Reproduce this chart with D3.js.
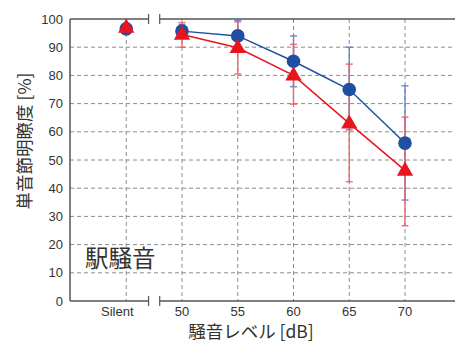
<!DOCTYPE html>
<html>
<head>
<meta charset="utf-8">
<script src="https://cdn.jsdelivr.net/npm/d3@7"></script>
<style>
  html, body { margin: 0; padding: 0; background: #fff; }
  svg { display: block; }
</style>
</head>
<body>
<svg id="chart" width="455" height="343"></svg>
<script>
// Noise levels (dB); "Silent" sits left of the axis break
const levels = [50, 55, 60, 65, 70];
const levelLabels = ["50", "55", "60", "65", "70"];
const silentLabel = "Silent";
const yTicks = [0, 10, 20, 30, 40, 50, 60, 70, 80, 90, 100];

// Series A (blue circles)
const blueSilent = 96.5;
const blueMean = [95.7, 94, 85, 75, 56];
const blueLow  = [93.5, 89, 76, 60.7, 35.8];
const blueHigh = [98, 99.5, 94, 90, 76.3];

// Series B (red triangles)
const redSilent = 97;
const redMean = [94.5, 89.8, 80, 63, 46.3];
const redLow  = [90, 80.5, 69.8, 42.3, 26.7];
const redHigh = [98.7, 99, 91, 84, 65.2];

const svg = d3.select("#chart");
const font = "'Liberation Sans', Arial, sans-serif";
const jpFont = "'Noto Sans CJK JP', 'Noto Sans', sans-serif";

const x = d3.scaleLinear().domain([50, 70]).range([182, 405]);
const silentX = 45;
const y = d3.scaleLinear().domain([0, 100]).range([301, 19]);
const left = 70, right = 455;
const breakL = x(47), breakR = x(48);

const blue = "#1f4fa0", red = "#e8141e";
const blueErr = "#5a7ec4", redErr = "#ef5a62";
const grid = "#8c8c8c", axisCol = "#555";

// Horizontal grid
svg.append("g").selectAll("line")
  .data(yTicks.filter(t => t > 0 && t < 100)).join("line")
  .attr("x1", left).attr("x2", right)
  .attr("y1", d => y(d)).attr("y2", d => y(d))
  .attr("stroke", grid).attr("stroke-width", 1).attr("stroke-dasharray", "4,3");

// Vertical grid
svg.append("g").selectAll("line")
  .data([silentX].concat(levels)).join("line")
  .attr("x1", d => x(d)).attr("x2", d => x(d))
  .attr("y1", y(100)).attr("y2", y(0))
  .attr("stroke", grid).attr("stroke-width", 1).attr("stroke-dasharray", "4,3");

// Left axis line
svg.append("line").attr("x1", left).attr("x2", left)
  .attr("y1", y(100)).attr("y2", y(0))
  .attr("stroke", axisCol).attr("stroke-width", 1.5);

// Top and bottom axis lines with a break
[y(100), y(0)].forEach(yy => {
  const g = svg.append("g").attr("stroke", axisCol).attr("stroke-width", 1.5);
  g.append("line").attr("x1", left).attr("x2", breakL).attr("y1", yy).attr("y2", yy);
  g.append("line").attr("x1", breakR).attr("x2", right).attr("y1", yy).attr("y2", yy);
  g.append("line").attr("x1", breakL).attr("x2", breakL).attr("y1", yy - 5).attr("y2", yy + 5).attr("stroke-width", 1.2);
  g.append("line").attr("x1", breakR).attr("x2", breakR).attr("y1", yy - 5).attr("y2", yy + 5).attr("stroke-width", 1.2);
});

// Y tick labels
svg.append("g").selectAll("text").data(yTicks).join("text")
  .attr("x", 63).attr("y", d => y(d) + 4.5)
  .attr("text-anchor", "end").attr("font-family", font).attr("font-size", 13)
  .attr("fill", "#333").text(d => d);

// X tick labels
svg.append("g").selectAll("text").data(levels).join("text")
  .attr("x", d => x(d)).attr("y", 315.5)
  .attr("text-anchor", "middle").attr("font-family", font).attr("font-size", 13)
  .attr("fill", "#333").text((d, i) => levelLabels[i]);
svg.append("text").attr("x", x(silentX) - 9).attr("y", 315.5)
  .attr("text-anchor", "middle").attr("font-family", font).attr("font-size", 13)
  .attr("fill", "#333").text(silentLabel);

// Axis titles
svg.append("text").attr("x", 251).attr("y", 337.5)
  .attr("text-anchor", "middle").attr("font-family", jpFont).attr("font-size", 17.5)
  .attr("fill", "#333").text("騒音レベル [dB]");
svg.append("text")
  .attr("transform", "translate(31,141) rotate(-90)")
  .attr("text-anchor", "middle").attr("font-family", jpFont).attr("font-size", 17.5)
  .attr("fill", "#333").text("単音節明瞭度 [%]");

// Condition label
svg.append("text").attr("x", 85).attr("y", 267)
  .attr("font-family", jpFont).attr("font-size", 23.5)
  .attr("fill", "#333").text("駅騒音");

// Lines
const line = d3.line().x(d => x(d[0])).y(d => y(d[1]));
svg.append("path").datum(levels.map((l, i) => [l, blueMean[i]]))
  .attr("d", line).attr("fill", "none").attr("stroke", blue).attr("stroke-width", 1.5);
svg.append("path").datum(levels.map((l, i) => [l, redMean[i]]))
  .attr("d", line).attr("fill", "none").attr("stroke", red).attr("stroke-width", 1.5);

// Error bars
function errBars(lo, hi, col) {
  const g = svg.append("g").attr("stroke", col).attr("stroke-width", 1.5).attr("stroke-opacity", 0.85);
  levels.forEach((l, i) => {
    const cx = x(l);
    g.append("line").attr("x1", cx).attr("x2", cx).attr("y1", y(lo[i])).attr("y2", y(hi[i]));
    g.append("line").attr("x1", cx - 3.5).attr("x2", cx + 3.5).attr("y1", y(lo[i])).attr("y2", y(lo[i]));
    g.append("line").attr("x1", cx - 3.5).attr("x2", cx + 3.5).attr("y1", y(hi[i])).attr("y2", y(hi[i]));
  });
}
errBars(blueLow, blueHigh, blueErr);
errBars(redLow, redHigh, redErr);

// Markers
const bluePts = [[silentX, blueSilent]].concat(levels.map((l, i) => [l, blueMean[i]]));
const redPts = [[silentX, redSilent]].concat(levels.map((l, i) => [l, redMean[i]]));
svg.append("g").selectAll("circle").data(bluePts).join("circle")
  .attr("cx", d => x(d[0])).attr("cy", d => y(d[1])).attr("r", 6.8).attr("fill", blue);
const tri = d3.symbol().type(d3.symbolTriangle).size(115);
svg.append("g").selectAll("path").data(redPts).join("path")
  .attr("d", tri)
  .attr("transform", d => `translate(${x(d[0])},${y(d[1]) + 0.5})`)
  .attr("fill", red);
</script>
</body>
</html>
